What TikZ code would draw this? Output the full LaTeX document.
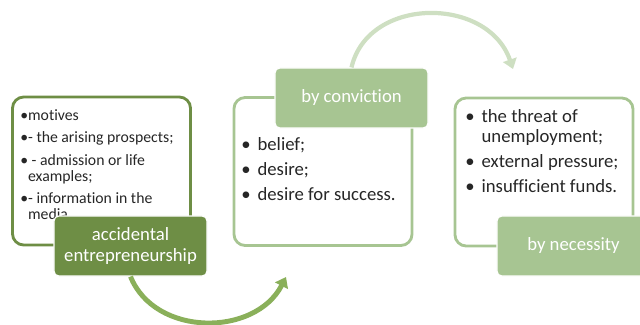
\documentclass[tikz,border=0pt]{standalone}
\usepackage{fontspec}
\usepackage{xcolor}
\usepackage{tikz}
\usetikzlibrary{arrows.meta, positioning}
\setmainfont{Carlito}[Ligatures={NoCommon}]

\definecolor{darkleaf}{HTML}{6E8E45}
\definecolor{midleaf}{HTML}{8AB05A}
\definecolor{lightleaf}{HTML}{A7C592}
\definecolor{paleleaf}{HTML}{CEDFC2}

\begin{document}
\begin{tikzpicture}[
    x=0.025cm, y=-0.025cm,
    frame/.style={rectangle, draw=lightleaf, line width=2pt, rounded corners=8pt, minimum width=4.45cm, minimum height=3.7cm},
    darkframe/.style={frame, draw=darkleaf},
    label/.style={rectangle, fill=lightleaf, draw=white, line width=0.8pt, rounded corners=3.5pt, minimum width=3.825cm, minimum height=1.5cm, text=white, align=center, font=\fontsize{13.3}{15.4}\selectfont},
    darklabel/.style={label, fill=darkleaf},
    bullets/.style={anchor=north west, inner sep=0pt, align=left, text=black!85, font=\fontsize{13.3}{14.2}\selectfont},
    smallbullets/.style={bullets, font=\fontsize{11.2}{11.4}\selectfont},
    arrow/.style={-{Triangle[length=7pt, width=10pt]}, line width=3.5pt, color=midleaf},
    palearrow/.style={arrow, line width=3pt, color=paleleaf}
]
\useasboundingbox (0,0) rectangle (640,324);

% Frames
\node[darkframe] (accframe) at (101.5,171) {};
\node[frame] (convframe) at (323,171.5) {};
\node[frame] (needframe) at (544,172) {};

% Bullet texts
\node[smallbullets] (acctext) at (20,109) {%
\begin{tabular}{@{}l@{}l@{}}
\textbullet & motives\\[4.5pt]
\textbullet & - the arising prospects;\\[4.5pt]
\textbullet & \ - admission or life\\
 & examples;\\[4.5pt]
\textbullet & - information in the\\
 & media
\end{tabular}};
\node[bullets] (convtext) at (241,136) {%
\begin{tabular}{@{}l@{\hspace{5pt}}l@{}}
\textbullet & belief;\\[3.5pt]
\textbullet & desire;\\[3.5pt]
\textbullet & desire for success.
\end{tabular}};
\node[bullets] (needtext) at (465,108) {%
\begin{tabular}{@{}l@{\hspace{5pt}}l@{}}
\textbullet & the threat of\\
 & unemployment;\\[3.5pt]
\textbullet & external pressure;\\[3.5pt]
\textbullet & insufficient funds.
\end{tabular}};

% Labels
\node[darklabel] (acclabel) at (130.5,246) {accidental\\entrepreneurship};
\node[label] (convlabel) at (351.5,98) {by conviction};
\node[label] (needlabel) at (573.5,246) {by necessity};

% Arrows
\coordinate (convin) at (286,277);
\coordinate (needin) at (513,69);
\draw[arrow] (acclabel.south) .. controls (155,337) and (255,337) .. (convin);
\draw[palearrow] (convlabel.north) .. controls (368,-4) and (488,-4) .. (needin);

\end{tikzpicture}
\end{document}
